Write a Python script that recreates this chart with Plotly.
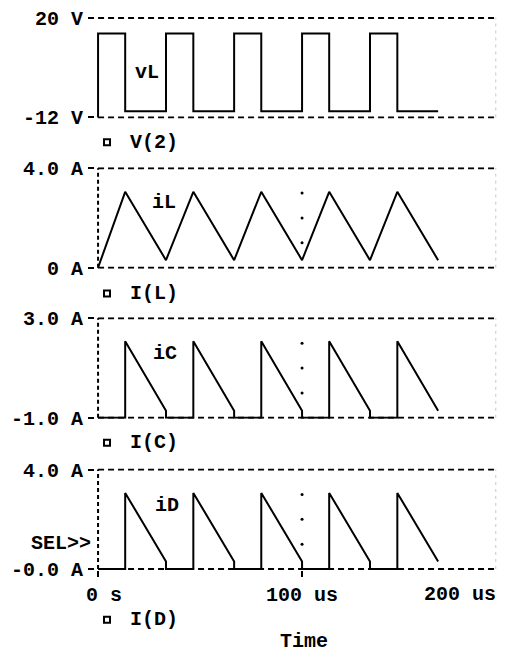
import plotly.graph_objects as go
from plotly.subplots import make_subplots

# time in microseconds, switching period ~33.3 us
t_vl = [0, 0, 13.3, 33.3, 46.7, 66.7, 80, 100, 113.3, 133.3, 146.7, 166.7]
v_vl = [-12, 15, -10, 15, -10, 15, -10, 15, -10, 15, -10, -10]

t_il = [0, 13.3, 33.3, 46.7, 66.7, 80, 100, 113.3, 133.3, 146.7, 166.7]
i_il = [0, 3.05, 0.3, 3.05, 0.3, 3.05, 0.3, 3.05, 0.3, 3.05, 0.3]

t_sw = [0, 13.3, 13.3, 33.3, 33.3, 46.7, 46.7, 66.7, 66.7, 80,
        80, 100, 100, 113.3, 113.3, 133.3, 133.3, 146.7, 146.7, 166.7]
i_ic = [-1, -1, 2.08, -0.72] * 5
i_id = [0, 0, 3.06, 0.3] * 5

series = [(t_vl, v_vl), (t_il, i_il), (t_sw, i_ic), (t_sw, i_id)]
line_shapes = ["hv", "linear", "linear", "linear"]
trace_labels = ["vL", "iL", "iC", "iD"]
probe_names = ["V(2)", "I(L)", "I(C)", "I(D)"]
y_limits = [(-12, 20), (0, 4), (-1, 3), (0, 4)]
y_ticktext = [["-12 V", "20 V"], ["0 A", "4.0 A"], ["-1.0 A", "3.0 A"], ["-0.0 A", "4.0 A"]]
grid_dots = [[], [1, 2, 3], [0, 1, 2], [1, 2, 3]]
x_tickvals = [0, 100]
x_ticktext = ["\u00a00 s", "100 us"]

# the page body has an 8px margin and clips at its content box,
# so the figure covers page pixels 8..497 horizontally
OFF = 8
W, H = 505 - 2 * OFF, 654 - OFF
L, R, T = 95 - OFF, 0, 14 - OFF
B = H - (570 - OFF)
PW = W - L - R
PH = H - T - B
x_lo = -1.5
x_max = x_lo + PW / 2.04   # 2.04 px per microsecond


def px(x):
    return (x - OFF - L) / PW


def py(y):
    return (H - B - (y - OFF)) / PH


# page-pixel boxes of each panel (top, bottom)
boxes = [(14, 116), (165, 267), (316, 418), (468, 570)]
label_pos = [(147, 70), (164, 201), (165, 352), (167, 505)]
probe_y = [140, 292, 442, 620]

FONT = dict(family="Liberation Mono", size=20, color="black", weight="bold")

fig = make_subplots(rows=4, cols=1, shared_xaxes=True)

shapes = []
annotations = []
for i in range(4):
    r = i + 1
    xs, ys = series[i]
    fig.add_trace(go.Scatter(x=xs, y=ys, mode="lines",
                             line=dict(color="black", width=2, shape=line_shapes[i]),
                             showlegend=False, hoverinfo="skip"), row=r, col=1)
    if grid_dots[i]:
        fig.add_trace(go.Scatter(x=[100] * len(grid_dots[i]), y=grid_dots[i], mode="markers",
                                 marker=dict(color="black", size=3), showlegend=False,
                                 hoverinfo="skip"), row=r, col=1)
    lo, hi = y_limits[i]
    pad = (hi - lo) / 100
    top, bot = boxes[i]
    fig.update_yaxes(row=r, col=1, range=[lo - pad, hi + pad], domain=[py(bot), py(top)],
                     tickvals=[lo, hi], ticktext=y_ticktext[i], ticks="outside", ticklen=6,
                     tickwidth=2, tickcolor="black", showgrid=False, zeroline=False,
                     showline=False, tickfont=FONT, ticklabelstandoff=1,
                     ticklabeloverflow="allow")
    fig.update_xaxes(row=r, col=1, range=[x_lo, x_max], showgrid=False, zeroline=False,
                     showline=False, showticklabels=False, ticks="")

    xr = "x" if r == 1 else f"x{r}"
    yr = "y" if r == 1 else f"y{r}"
    dash = dict(color="black", width=2, dash="6px,4px")
    for yv in (lo, hi):
        shapes.append(dict(type="line", xref=xr, yref=yr, x0=0, x1=x_max, y0=yv, y1=yv,
                           line=dash, layer="below"))
    if r > 1:
        shapes.append(dict(type="line", xref=xr, yref=yr, x0=0, x1=0, y0=lo, y1=hi,
                           line=dict(color="black", width=2, dash="4px,3px"), layer="below"))
    shapes.append(dict(type="line", xref=xr, yref=yr, x0=x_max - 0.6, x1=x_max - 0.6, y0=lo, y1=hi,
                       line=dict(color="#c8c8c8", width=1, dash="3px,4px"), layer="below"))

    # waveform name
    lx, ly = label_pos[i]
    annotations.append(dict(text=trace_labels[i], xref="paper", yref="paper", x=px(lx), y=py(ly),
                            showarrow=False, font=FONT, xanchor="center", yanchor="middle"))
    # probe legend: square + name
    sy = probe_y[i]
    shapes.append(dict(type="rect", xref="paper", yref="paper", x0=px(104), x1=px(110),
                       y0=py(sy + 3), y1=py(sy - 3), line=dict(color="black", width=2)))
    annotations.append(dict(text=probe_names[i], xref="paper", yref="paper", x=px(128), y=py(sy),
                            showarrow=False, font=FONT, xanchor="left", yanchor="middle"))

fig.update_xaxes(row=4, col=1, tickvals=x_tickvals, ticktext=x_ticktext, showticklabels=True,
                 ticks="outside", ticklen=6, tickwidth=2, tickcolor="black", tickfont=FONT,
                 ticklabeloverflow="allow")

annotations.append(dict(text="200 us", xref="paper", yref="paper", x=px(498), y=py(595),
                        showarrow=False, font=FONT, xanchor="right", yanchor="middle"))
annotations.append(dict(text="SEL>>", xref="paper", yref="paper", x=px(93), y=py(543),
                        showarrow=False, font=FONT, xanchor="right", yanchor="middle"))
annotations.append(dict(text="Time", xref="paper", yref="paper", x=px(304), y=py(642),
                        showarrow=False, font=FONT, xanchor="center", yanchor="middle"))

fig.update_layout(width=W, height=H, margin=dict(l=L, r=R, t=T, b=B),
                  paper_bgcolor="white", plot_bgcolor="rgba(0,0,0,0)",
                  shapes=shapes, annotations=annotations, showlegend=False,
                  font=FONT)

fig.write_html("out.html")
